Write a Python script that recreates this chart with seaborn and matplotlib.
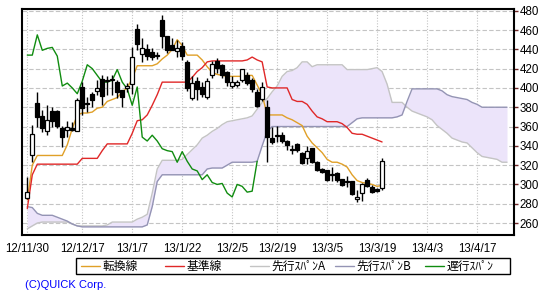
import numpy as np
import matplotlib
matplotlib.use("Agg")
import matplotlib.pyplot as plt
import seaborn as sns
from matplotlib.lines import Line2D
from matplotlib.patches import Rectangle

# ---------------- data ----------------
tick_pos = [0, 11, 21, 31, 41, 50, 60, 70, 80, 90]
tick_labels = ["12/11/30", "12/12/17", "13/1/7", "13/1/22", "13/2/5",
               "13/2/19", "13/3/5", "13/3/19", "13/4/3", "13/4/17"]
y_ticks = [260, 280, 300, 320, 340, 360, 380, 400, 420, 440, 460, 480]

open_ = [286, 330, 384, 371, 355, 376, 376, 358, 356, 358,
         355, 401, 384, 394, 397, 409, 407, 408, 406, 398,
         400, 404, 461, 435, 440, 437.5, 433, 470, 454, 445,
         438, 443, 427, 390, 407, 401, 391, 413, 428, 424,
         416, 402, 403.5, 408, 413, 408, 396, 388.5, 380.5, 348,
         350, 351, 345, 335.3, 342, 333, 327, 337.4, 323.5, 316,
         314.5, 310, 312, 305.5, 302.8, 303.5, 284.6, 290.8, 304.6, 297.6,
         295, 296]
high = [308, 362, 396, 377, 382, 380, 377, 361, 366, 365,
        389.5, 406, 391, 396, 408, 413, 412.6, 413, 408, 398,
        405, 442.7, 466, 452, 446, 441.7, 437, 475.5, 454, 451.4,
        449.6, 448, 429, 412, 411.6, 405.8, 410, 428, 431, 425,
        418, 412, 408, 420, 416, 410, 399, 406, 387.5, 359.8,
        360.5, 354, 346, 341, 343, 334, 340, 338, 324, 316.7,
        315, 318, 313, 306, 309, 304, 294, 301, 306.3, 299,
        296, 327.7]
low = [285, 323, 360, 354, 351, 360, 358, 339, 349, 355,
       355, 372, 375, 380.5, 392.6, 382, 392.6, 393, 390, 380.5,
       395.4, 393.4, 439, 427, 429, 429, 430, 441, 436, 439,
       432.3, 429, 396.8, 388, 387.5, 391, 389, 410, 415, 410,
       402.3, 400, 401, 406, 403, 396, 380, 386, 323, 342,
       344, 343, 336, 332, 334, 321, 321, 322, 314, 312,
       304, 304, 303, 298, 297, 289, 282, 282.8, 297, 291,
       292, 294]
close = [292, 352, 369.5, 358, 367, 366, 361, 349, 360, 356.5,
         387.5, 379, 383, 388, 399.6, 392, 407.5, 408, 396, 391,
         402.3, 432.3, 446, 441.7, 433, 432.3, 433.5, 454, 439.3, 439.3,
         441.7, 433, 400.2, 404.8, 399, 393.7, 407.2, 424.8, 420.3, 413.4,
         406.4, 406.4, 406.4, 419.6, 405.4, 398.5, 381.4, 401, 349.4, 344.3,
         351, 345.3, 340.8, 335.6, 335.6, 322.3, 334.5, 323.5, 315.2, 313.2,
         304.6, 310.8, 304.6, 299.5, 302.5, 289.7, 287, 300.1, 298.4, 291.8,
         293.2, 324.3]

tenkan = [284, 320, 330, 330, 330, 330, 330, 330, 341, 358,
          372, 374, 374, 375, 379, 380, 386, 388, 390, 396,
          400, 410, 423, 423, 423, 423, 425, 430, 434, 440,
          450, 444, 434, 434, 434, 429, 422, 416, 414, 413,
          412, 412, 412, 412, 413, 413, 403, 393, 372, 372,
          372, 372, 369, 367, 364, 361, 350, 343, 338, 333,
          326, 323, 323, 321, 318, 310, 304, 302, 301, 300,
          298, 299]
kijun = [275, 310, 321, 321, 321, 321, 321, 321, 321, 321,
         321, 327, 327, 327, 327, 335, 342, 342, 342, 342,
         342, 353, 366, 367, 372, 382, 393, 406, 406, 406,
         406, 406, 406, 411, 417, 421, 427, 428, 428, 428,
         428, 428, 428, 428, 429, 432, 429, 427, 401, 400,
         400, 400, 400, 388, 386, 386, 383, 376, 370, 368,
         365, 365, 365, 363, 359, 353, 352, 352, 350, 348,
         346, 344]
senkou_a = [254, 257, 260, 261, 261, 261, 261, 261, 261, 259,
            257, 257, 257, 257, 257, 257, 258, 261, 261, 261,
            261, 261, 264, 266, 269, 291, 316, 325, 325, 325,
            325, 326, 331, 336, 341, 348, 351, 355, 358, 362,
            365, 366, 367, 368, 369, 371, 378, 385, 389, 396,
            402, 412, 417, 418, 421, 427, 427, 422, 424, 424,
            424, 424, 424, 424, 419, 419, 419, 419, 419, 420,
            421, 417, 404, 385, 385, 385, 380, 376, 374, 372,
            370, 367, 361, 357, 353, 348, 346, 344, 343, 338,
            333, 329, 328, 327, 326, 323, 323]
senkou_b = [277, 276, 270, 268, 268, 268, 266, 264, 262, 259,
            257, 256, 256, 256, 256, 256, 256, 256, 256, 256,
            256, 256, 256, 256, 258, 277, 303, 310, 310, 310,
            310, 310, 310, 310, 310, 310, 316, 317, 317, 317,
            320, 323, 323, 323, 323, 323, 324, 340, 355, 360,
            360, 360, 360, 360, 360, 360, 360, 360, 360, 360,
            360, 360, 360, 360, 360, 364, 368, 369, 369, 369,
            369, 369, 369, 369, 370, 372, 386, 399, 399, 399,
            399, 399, 399, 397, 393, 391, 390, 389, 388, 385,
            383, 380, 380, 380, 380, 380, 380]
chikou = [434, 434, 455, 439, 441, 442, 433, 402, 405, 400,
          394, 407, 424, 420, 413, 406, 406, 408, 419, 406,
          399, 382, 401, 349, 345, 351, 345, 337, 335, 334,
          323, 334, 324, 316, 314, 305, 310, 302, 300, 301,
          291, 287, 300, 298, 292, 293, 324]

legend_labels = ["転換線", "基準線", "先行ｽﾊﾟﾝA", "先行ｽﾊﾟﾝB", "遅行ｽﾊﾟﾝ"]
c_tenkan, c_kijun, c_a, c_b, c_chikou = "#e0a028", "#e02828", "#c4c4c4", "#9494b4", "#108c10"
c_kumo = "#ece4fa"

# ---------------- figure ----------------
sns.set_style("white")
plt.rcParams['font.family'] = ['Liberation Sans', 'Noto Sans CJK JP', 'DejaVu Sans']

W, H = 550, 300
fig = plt.figure(figsize=(W / 100, H / 100), dpi=100)
ax = fig.add_axes([22 / W, 1 - 234.5 / H, 492 / W, 225.5 / H])

idx = np.arange(len(close))
idx_s = np.arange(len(senkou_a))
idx_c = np.arange(len(chikou))

# kumo
ax.fill_between(idx_s, senkou_a, senkou_b, color=c_kumo, lw=0, zorder=1)
sns.lineplot(x=idx_s, y=senkou_a, ax=ax, color=c_a, lw=1.0, zorder=2)
sns.lineplot(x=idx_s, y=senkou_b, ax=ax, color=c_b, lw=1.0, zorder=2)
sns.lineplot(x=idx, y=tenkan, ax=ax, color=c_tenkan, lw=1.0, zorder=3)
sns.lineplot(x=idx, y=kijun, ax=ax, color=c_kijun, lw=1.0, zorder=3)
sns.lineplot(x=idx_c, y=chikou, ax=ax, color=c_chikou, lw=1.0, zorder=3)

# candles
o = np.array(open_, float); c = np.array(close, float)
hi = np.array(high, float); lo = np.array(low, float)
up = c >= o
bottom = np.minimum(o, c)
height = np.maximum(np.abs(c - o), 0.9)
ax.vlines(idx, lo, hi, color="black", lw=1.0, zorder=4)
ax.bar(idx[up], height[up], bottom=bottom[up], width=0.85, color="white",
       edgecolor="black", linewidth=0.9, zorder=5)
ax.bar(idx[~up], height[~up], bottom=bottom[~up], width=0.85, color="black",
       edgecolor="black", linewidth=0.9, zorder=5)

# axes
ax.set_xlim(-1.06, 97.4)
ax.set_ylim(248.1, 481.8)
ax.set_xticks(tick_pos)
ax.set_xticklabels(tick_labels)
ax.set_yticks(y_ticks)
ax.yaxis.tick_right()
ax.set_xlabel(""); ax.set_ylabel("")
ax.grid(axis="y", color="#c4c4c4", linestyle=(0, (4, 2)), lw=0.8, zorder=0)
ax.grid(axis="x", color="#c4c4c4", linestyle=(0, (1, 1.5)), lw=0.8, zorder=0)
ax.set_axisbelow(True)
ax.tick_params(axis="x", length=4, width=1, color="#333370", labelsize=8.3, pad=2,
               labelcolor="black")
ax.tick_params(axis="y", length=3, width=1, color="#702828", labelsize=8.3, pad=1,
               right=True, left=False, labelright=True, labelleft=False,
               labelcolor="black")
for s in ax.spines.values():
    s.set_color("black")
    s.set_linewidth(1.5)
    s.set_visible(True)

# legend box (drawn in figure pixel coordinates)
def fx(px):
    return px / W

def fy(py):
    return 1 - py / H

fig.patches.append(Rectangle((fx(75.5), fy(274)), fx(509.5) - fx(75.5), fy(258) - fy(274),
                             transform=fig.transFigure, fill=False, edgecolor="black",
                             lw=1.0))
handle_x = [80.5, 164.5, 249.5, 334.5, 424.5]
colors = [c_tenkan, c_kijun, c_a, c_b, c_chikou]
for hx, lab, col in zip(handle_x, legend_labels, colors):
    fig.lines.append(Line2D([fx(hx), fx(hx + 19)], [fy(266), fy(266)],
                            transform=fig.transFigure, color=col, lw=1.0))
    fig.text(fx(hx + 22), fy(266.5), lab, fontsize=8.5, va="center", ha="left",
             family=["Noto Sans CJK JP", "DejaVu Sans"], color="black")

fig.text(fx(25), fy(285), "(C)QUICK Corp.", fontsize=8, color="#0000ff",
         va="center", ha="left")

fig.savefig("out.png", dpi=100)
